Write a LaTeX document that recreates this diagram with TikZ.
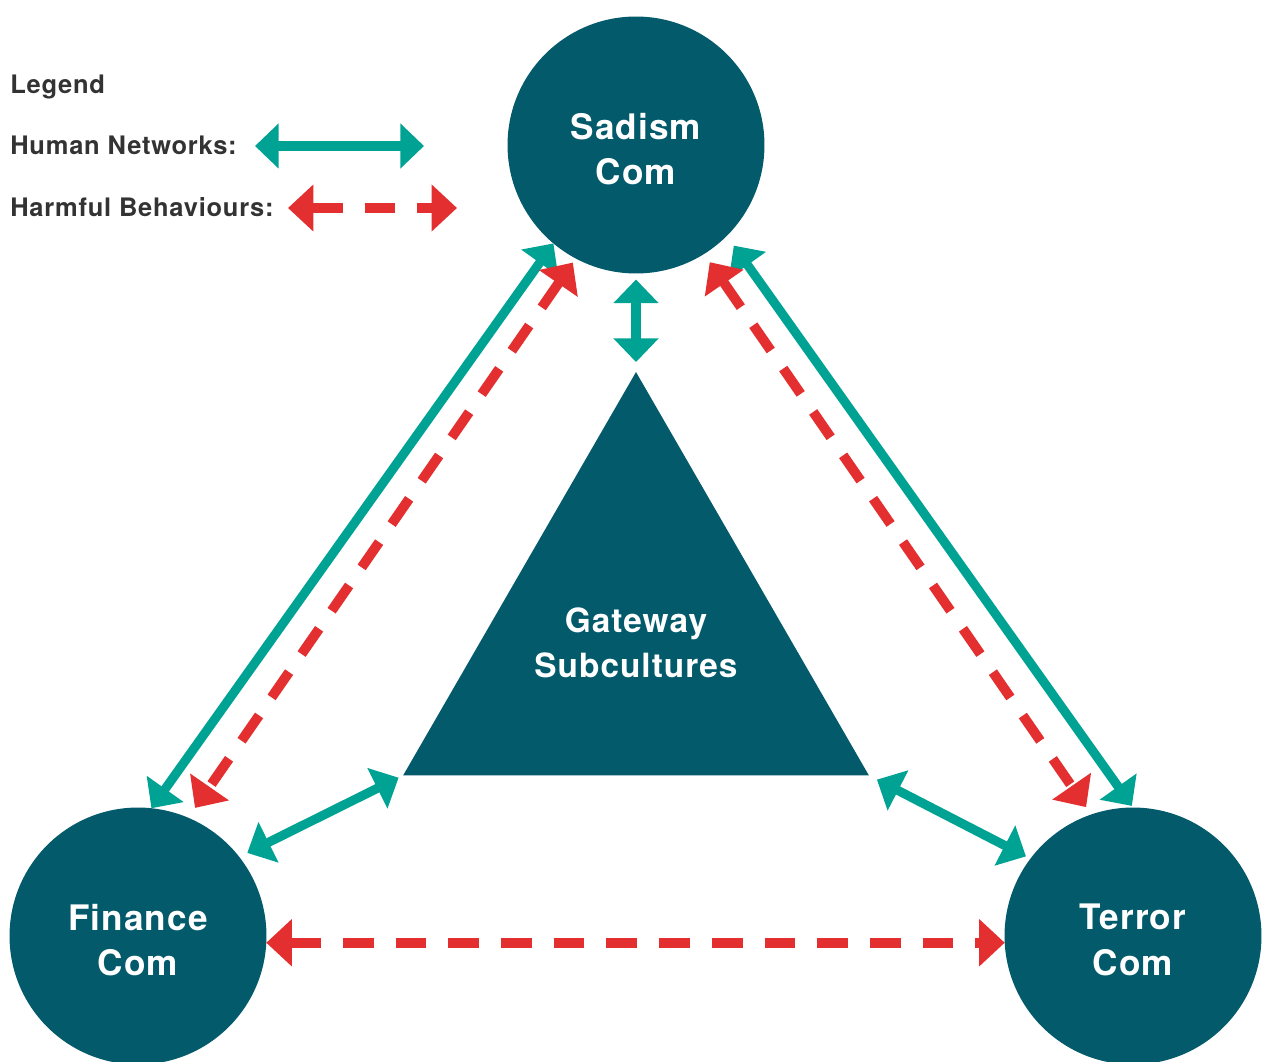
\documentclass[tikz,border=0pt]{standalone}
\usepackage{fontspec}
\setmainfont{TeX Gyre Heros}[LetterSpace=3]
\usepackage{tikz}
\usetikzlibrary{positioning, arrows.meta, shapes.geometric}

\definecolor{ComTeal}{HTML}{035A6B}
\definecolor{NetGreen}{HTML}{00A393}
\definecolor{HarmRed}{HTML}{E32F2F}
\definecolor{KeyGrey}{HTML}{333333}

\tikzstyle{Com} = [circle, minimum size = 5.14cm, inner sep = 0cm, outer sep = 0cm, fill = ComTeal]
\tikzstyle{ComText} = [text = white, align = center, inner sep = 0cm, yshift = -2.3pt, font = \fontsize{20}{26}\selectfont\bfseries]
\tikzstyle{Gate} = [regular polygon, regular polygon sides = 3, minimum size = 10.76cm, inner sep = 0cm, outer sep = 0cm, fill = ComTeal]
\tikzstyle{GateText} = [text = white, align = center, inner sep = 0cm, yshift = -1.1pt, font = \fontsize{19}{25.5}\selectfont\bfseries]
\tikzstyle{Net} = [NetGreen, line width = 5.2pt, {Triangle[length=13.5pt, width=25pt]}-{Triangle[length=13.5pt, width=25pt]}]
\tikzstyle{Harm} = [HarmRed, line width = 5.6pt, dash pattern = on 17.5pt off 12.5pt, {Triangle[length=14.5pt, width=26pt]}-{Triangle[length=14.5pt, width=26pt]}]
\tikzstyle{Key} = [anchor = base west, inner sep = 0cm, text = KeyGrey, font = \fontsize{14.5}{18}\selectfont\bfseries]

\begin{document}
\begin{tikzpicture}[x = 0.02cm, y = -0.02cm]
    \useasboundingbox (0,0) rectangle (1263,1061);

    %%%%%%%%%%%%%%%%%%%%%%
    \node[Key] (legend) at (10,93) {Legend};
    \node[Key] (netkey) at (10,154) {Human Networks:};
    \node[Key] (harmkey) at (10,216) {Harmful Behaviours:};
    \coordinate (net-a) at (255,146);
    \coordinate (net-b) at (424,146);
    \coordinate (harm-a) at (288,208);
    \coordinate (harm-b) at (457,208);

    \draw[Net] (net-a) -- (net-b);
    \draw[Harm] (harm-a) -- (harm-b);

    %%%%%%%%%%%%%%%%%%%%%%
    \node[Com, label={[ComText]center:{Sadism\\Com}}] (sadism) at (636,145) {};
    \node[Com, label={[ComText]center:{Finance\\Com}}] (finance) at (138,936) {};
    \node[Com, label={[ComText]center:{Terror\\Com}}] (terror) at (1133,936) {};
    \node[Gate, label={[GateText]center:{Gateway\\Subcultures}}] (gateway) at (636,641) {};

    %%%%%%%%%%%%%%%%%%%%%%
    \draw[Net] (sadism.230) to (finance.84);
    \draw[Harm, shorten <= 0.1cm, shorten >= 0.24cm] (sadism.242) to (finance.67);
    \draw[Net, shorten <= 0.24cm, shorten >= 0.04cm] (sadism.315) to (terror.90);
    \draw[Harm, shorten <= 0.2cm, shorten >= 0.18cm] (sadism.302) to (terror.109);
    \draw[Net, shorten <= 0.12cm, shorten >= 0.2cm] (sadism.south) to (gateway.corner 1);
    \draw[Net, shorten <= 0.18cm, shorten >= 0.1cm] (finance.38) to (gateway.corner 2);
    \draw[Net, shorten <= 0.1cm, shorten >= 0.18cm] (terror.143) to (gateway.corner 3);
    \draw[Harm] (finance.-3) to (terror.183);  % bottom link

\end{tikzpicture}
\end{document}
